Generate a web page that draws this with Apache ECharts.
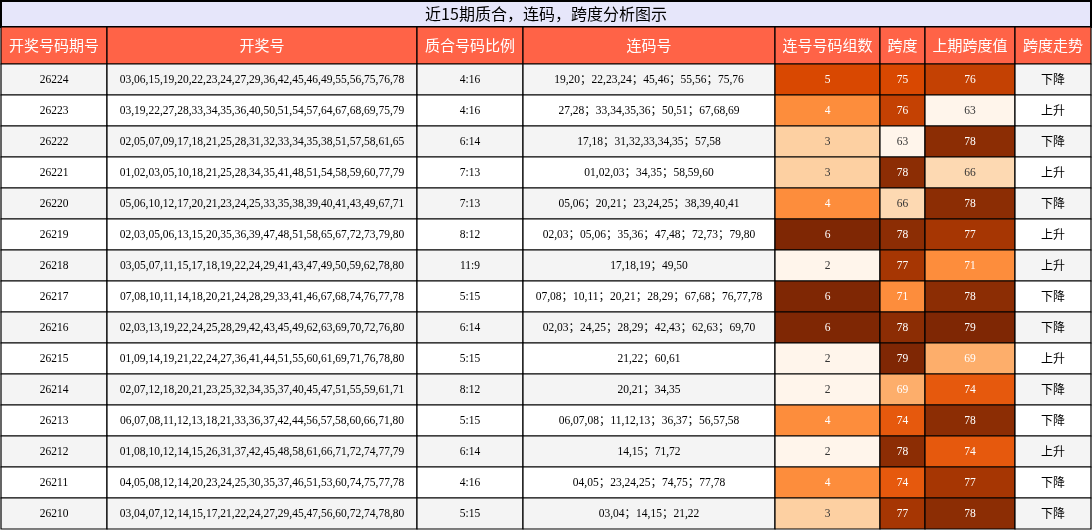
<!DOCTYPE html>
<html><head><meta charset="utf-8">
<script src="https://cdn.jsdelivr.net/npm/echarts@6/dist/echarts.min.js"></script>
<style>html,body{margin:0;padding:0;background:#fff}#c{width:1092px;height:530px}</style>
</head><body><div id="c"></div>
<script>
const title = '近15期质合，连码，跨度分析图示';
const headers = ['开奖号码期号','开奖号','质合号码比例','连码号','连号号码组数','跨度','上期跨度值','跨度走势'];
const periods = ['26224','26223','26222','26221','26220','26219','26218','26217','26216','26215','26214','26213','26212','26211','26210'];
const draws = [
'03,06,15,19,20,22,23,24,27,29,36,42,45,46,49,55,56,75,76,78',
'03,19,22,27,28,33,34,35,36,40,50,51,54,57,64,67,68,69,75,79',
'02,05,07,09,17,18,21,25,28,31,32,33,34,35,38,51,57,58,61,65',
'01,02,03,05,10,18,21,25,28,34,35,41,48,51,54,58,59,60,77,79',
'05,06,10,12,17,20,21,23,24,25,33,35,38,39,40,41,43,49,67,71',
'02,03,05,06,13,15,20,35,36,39,47,48,51,58,65,67,72,73,79,80',
'03,05,07,11,15,17,18,19,22,24,29,41,43,47,49,50,59,62,78,80',
'07,08,10,11,14,18,20,21,24,28,29,33,41,46,67,68,74,76,77,78',
'02,03,13,19,22,24,25,28,29,42,43,45,49,62,63,69,70,72,76,80',
'01,09,14,19,21,22,24,27,36,41,44,51,55,60,61,69,71,76,78,80',
'02,07,12,18,20,21,23,25,32,34,35,37,40,45,47,51,55,59,61,71',
'06,07,08,11,12,13,18,21,33,36,37,42,44,56,57,58,60,66,71,80',
'01,08,10,12,14,15,26,31,37,42,45,48,58,61,66,71,72,74,77,79',
'04,05,08,12,14,20,23,24,25,30,35,37,46,51,53,60,74,75,77,78',
'03,04,07,12,14,15,17,21,22,24,27,29,45,47,56,60,72,74,78,80'];
const ratios = ['4:16','4:16','6:14','7:13','7:13','8:12','11:9','5:15','6:14','5:15','8:12','5:15','6:14','4:16','5:15'];
const consec = [
'19,20；22,23,24；45,46；55,56；75,76','27,28；33,34,35,36；50,51；67,68,69','17,18；31,32,33,34,35；57,58',
'01,02,03；34,35；58,59,60','05,06；20,21；23,24,25；38,39,40,41','02,03；05,06；35,36；47,48；72,73；79,80',
'17,18,19；49,50','07,08；10,11；20,21；28,29；67,68；76,77,78','02,03；24,25；28,29；42,43；62,63；69,70',
'21,22；60,61','20,21；34,35','06,07,08；11,12,13；36,37；56,57,58','14,15；71,72','04,05；23,24,25；74,75；77,78','03,04；14,15；21,22'];
const counts = [5,4,3,3,4,6,2,6,6,2,2,4,2,4,3];
const spans = [75,76,63,78,66,78,77,71,78,79,69,74,78,74,77];
const prevSpans = [76,63,78,66,78,77,71,78,79,69,74,78,74,77,78];
const trends = ['下降','上升','下降','上升','下降','上升','上升','下降','下降','上升','下降','下降','上升','下降','下降'];

const colEdges = [1,107,417,523,775,880,925,1015,1091];
const TITLE_H = 27, HEAD_H = 37, ROW_H = 31;
const spanColors = {63:'#fff5eb',66:'#fdd9b2',69:'#fdae6b',71:'#fd8d3c',74:'#e6590d',75:'#d94801',76:'#c44103',77:'#a63603',78:'#8c2d04',79:'#7f2704'};
const countColors = {2:'#fff5eb',3:'#fdd0a2',4:'#fd8d3c',5:'#d94801',6:'#7f2704'};
const darkText = c => { const v=echarts.color.parse(c); return (0.299*v[0]+0.587*v[1]+0.114*v[2]) > 190; };

const data = [];
data.push({value:[0,-2], kind:'title'});
for (let c=0;c<8;c++) data.push({value:[c,-1], kind:'head'});
for (let r=0;r<15;r++) for (let c=0;c<8;c++) data.push({value:[c,r]});

function cellInfo(c,r){
  const bg = r%2===0 ? '#f4f4f4' : '#ffffff';
  const vals=[periods[r],draws[r],ratios[r],consec[r],String(counts[r]),String(spans[r]),String(prevSpans[r]),trends[r]];
  let fill=bg, tc='#000';
  if(c===4){fill=countColors[counts[r]];}
  if(c===5){fill=spanColors[spans[r]];}
  if(c===6){fill=spanColors[prevSpans[r]];}
  if(c>=4&&c<=6){tc=darkText(fill)?'#333':'#fff';}
  return {text:vals[c],fill,tc};
}

const chart = echarts.init(document.getElementById('c'));
chart.setOption({
  animation:false,
  grid:{left:0,right:0,top:0,bottom:0},
  xAxis:{type:'value',min:0,max:1092,show:false},
  yAxis:{type:'value',min:0,max:530,inverse:true,show:false},
  series:[{
    type:'custom',
    data:data,
    renderItem:function(params,api){
      const d=data[params.dataIndex];
      const c=api.value(0), r=api.value(1);
      let x0,x1,y0,y1,text,fill,tc,font;
      if(d.kind==='title'){x0=1;x1=1091;y0=1;y1=TITLE_H;text=title;fill='#e6e6fa';tc='#000';font='16px "Noto Sans CJK SC"';}
      else if(d.kind==='head'){x0=colEdges[c];x1=colEdges[c+1];y0=TITLE_H;y1=TITLE_H+HEAD_H;text=headers[c];fill='#ff6347';tc='#fff';font='15px "Noto Sans CJK SC"';}
      else{x0=colEdges[c];x1=colEdges[c+1];y0=TITLE_H+HEAD_H+r*ROW_H;y1=y0+ROW_H;
        const ci=cellInfo(c,r);text=ci.text;fill=ci.fill;tc=ci.tc;
        font=(c===7?'12px "Noto Sans CJK SC"':'11.5px "Liberation Serif","Noto Sans CJK SC"');}
      const p0=api.coord([x0,y0]), p1=api.coord([x1,y1]);
      return {type:'group',children:[
        {type:'rect',shape:{x:p0[0],y:p0[1],width:p1[0]-p0[0],height:p1[1]-p0[1]},
         style:{fill:fill,stroke:'#000',lineWidth:d.kind==='title'?2:1.2}},
        {type:'text',style:{text:text,x:(p0[0]+p1[0])/2,y:(p0[1]+p1[1])/2,align:'center',verticalAlign:'middle',fill:tc,font:font}}
      ]};
    }
  }]
});
</script></body></html>
